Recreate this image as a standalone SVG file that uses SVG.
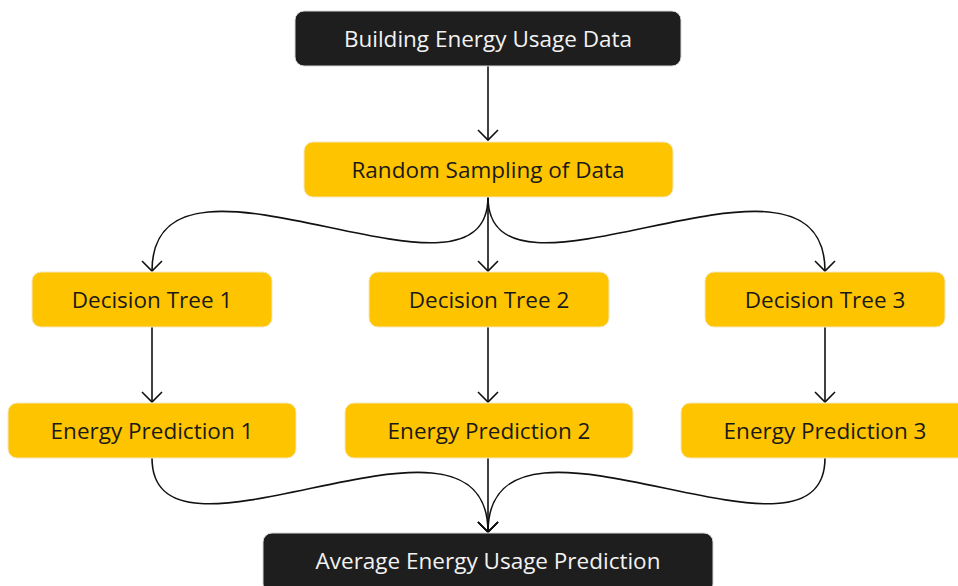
<svg xmlns="http://www.w3.org/2000/svg" width="958" height="586" viewBox="0 0 958 586">
  <defs>
    <style>
      .dark rect { fill: #1e1e1e; stroke: #d8d8d8; stroke-width: 1; }
      .dark text { fill: #f2f2f2; }
      .gold rect { fill: #ffc400; stroke: #f3e7c0; stroke-width: 1; }
      .gold text { fill: #1a1a1a; }
      text { font-family: "Open Sans", "Noto Sans", "DejaVu Sans", sans-serif; font-size: 22.5px; text-anchor: middle; }
      .wire { fill: none; stroke: #111; stroke-width: 1.6; marker-end: url(#tip); }
    </style>
    <marker id="tip" viewBox="-11 -11 13 22" markerWidth="13" markerHeight="22" refX="0" refY="0" orient="auto" markerUnits="userSpaceOnUse">
      <path d="M-10,-10 L0,0 L-10,10" fill="none" stroke="#111" stroke-width="1.6"/>
    </marker>
  </defs>

  <g id="connectors">
    <path class="wire" d="M488,66 L488,140"/>
    <path class="wire" d="M488,197 L488,271"/>
    <path class="wire" d="M488,197 C488,330 152,115 152,271"/>
    <path class="wire" d="M488,197 C488,330 825,115 825,271"/>
    <path class="wire" d="M152,327 L152,402"/>
    <path class="wire" d="M488,327 L488,402"/>
    <path class="wire" d="M825,327 L825,402"/>
    <path class="wire" d="M488,458 L488,532"/>
    <path class="wire" d="M152,458 C152,591 488,376 488,532"/>
    <path class="wire" d="M825,458 C825,591 488,376 488,532"/>
  </g>

  <g id="building-data" class="dark">
    <rect x="295" y="11" width="386" height="55" rx="9"/>
    <text x="488" y="47">Building Energy Usage Data</text>
  </g>
  <g id="random-sampling" class="gold">
    <rect x="304" y="142" width="369" height="55" rx="9"/>
    <text x="488" y="177.5">Random Sampling of Data</text>
  </g>
  <g id="tree-1" class="gold">
    <rect x="32" y="272" width="240" height="55" rx="9"/>
    <text x="152" y="307.5">Decision Tree 1</text>
  </g>
  <g id="tree-2" class="gold">
    <rect x="369" y="272" width="240" height="55" rx="9"/>
    <text x="489" y="307.5">Decision Tree 2</text>
  </g>
  <g id="tree-3" class="gold">
    <rect x="705" y="272" width="240" height="55" rx="9"/>
    <text x="825" y="307.5">Decision Tree 3</text>
  </g>
  <g id="prediction-1" class="gold">
    <rect x="8" y="403" width="288" height="55" rx="9"/>
    <text x="152" y="438.5">Energy Prediction 1</text>
  </g>
  <g id="prediction-2" class="gold">
    <rect x="345" y="403" width="288" height="55" rx="9"/>
    <text x="489" y="438.5">Energy Prediction 2</text>
  </g>
  <g id="prediction-3" class="gold">
    <rect x="681" y="403" width="288" height="55" rx="9"/>
    <text x="825" y="438.5">Energy Prediction 3</text>
  </g>
  <g id="average-prediction" class="dark">
    <rect x="263" y="533" width="450" height="60" rx="9"/>
    <text x="488" y="568.5">Average Energy Usage Prediction</text>
  </g>
</svg>
